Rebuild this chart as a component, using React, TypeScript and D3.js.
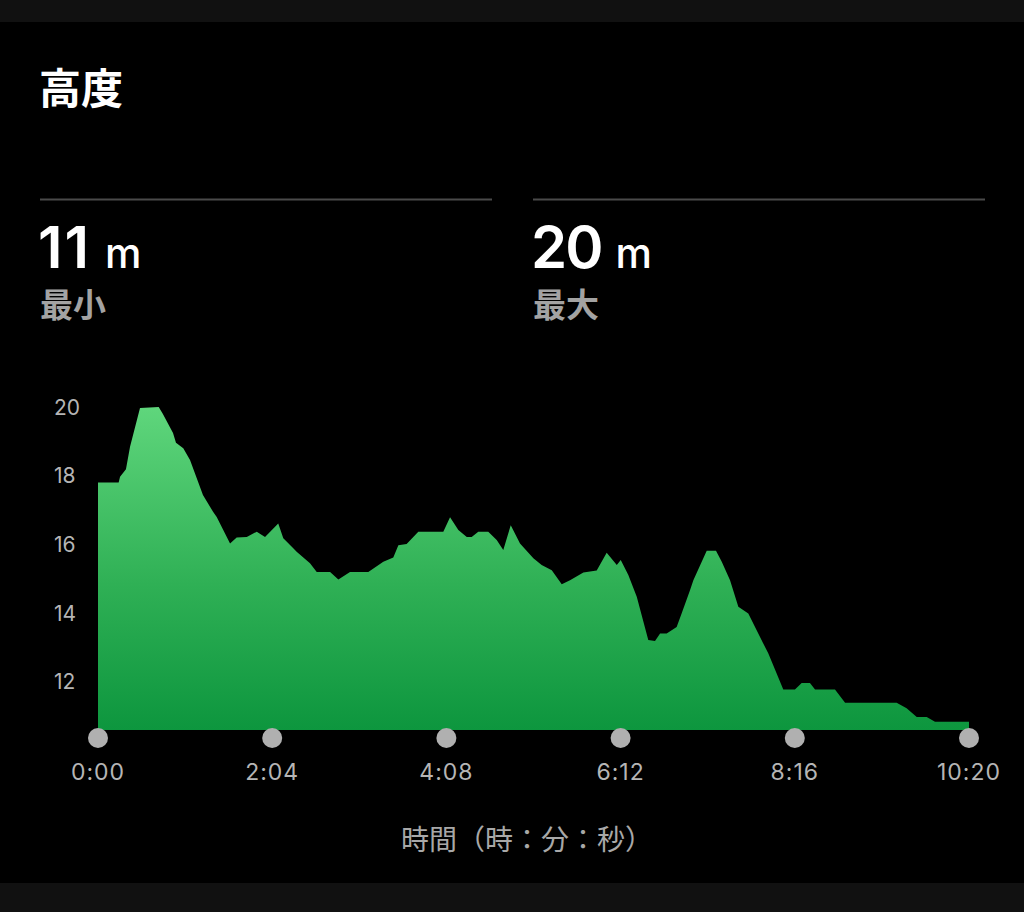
import React, { useEffect, useRef } from 'react';
import * as d3 from 'd3';

// elapsed time (s) and altitude (m)
const times = [
  0, 14.7, 15.7, 19.9, 22.8, 29.9, 43.2, 46.1, 53.4, 55.5, 60.7, 65.5, 74.7, 81.9, 84.5, 94.0,
  98.7, 105.9, 113.0, 118.9, 128.3, 131.9, 139.0, 141.4, 150.9, 155.7, 165.2, 171.1, 179.4,
  192.4, 203.1, 210.2, 213.8, 219.7, 228.0, 245.8, 250.6, 256.5, 262.5, 266.0, 270.7, 277.8,
  283.8, 288.5, 293.8, 300.4, 309.9, 315.8, 323.0, 330.1, 336.0, 345.5, 355.0, 362.1, 369.3,
  372.1, 377.5, 383.5, 391.7, 396.5, 400.1, 404.8, 411.9, 415.5, 421.4, 423.8, 433.3, 439.9,
  444.0, 449.9, 455.8, 462.9, 470.0, 477.1, 487.8, 496.1, 500.9, 506.8, 510.4, 524.6, 531.8,
  568.5, 575.6, 582.8, 589.9, 595.8, 620,
];
const altitudes = [
  17.8, 17.8, 17.97, 18.19, 18.84, 19.97, 20.0, 19.8, 19.24, 18.96, 18.8, 18.46, 17.44, 16.95,
  16.8, 16.03, 16.2, 16.22, 16.37, 16.22, 16.61, 16.18, 15.89, 15.79, 15.45, 15.2, 15.2, 14.98,
  15.2, 15.2, 15.5, 15.62, 15.98, 16.01, 16.37, 16.37, 16.79, 16.42, 16.22, 16.22, 16.37, 16.37,
  16.13, 15.84, 16.56, 16.03, 15.6, 15.4, 15.25, 14.84, 14.96, 15.18, 15.24, 15.76, 15.4, 15.55,
  15.11, 14.48, 13.22, 13.19, 13.41, 13.41, 13.6, 14.0, 14.67, 14.96, 15.82, 15.82, 15.5, 14.96,
  14.19, 13.99, 13.41, 12.83, 11.78, 11.78, 11.97, 11.97, 11.78, 11.78, 11.39, 11.39, 11.23,
  10.98, 10.98, 10.84, 10.84,
];
const yTicks = [12, 14, 16, 18, 20];
const xTicks = [0, 124, 248, 372, 496, 620];
const statValues = ['11', '20'];
const statLabels = ['最小', '最大'];

const W = 1024;
const H = 912;
const CJK = "'Noto Sans CJK JP', 'Noto Sans', sans-serif";
const NUM = "Inter, 'Noto Sans', sans-serif";

const fmtTime = (s: number) => `${Math.floor(s / 60)}:${String(s % 60).padStart(2, '0')}`;

export default function App() {
  const svgRef = useRef<SVGSVGElement>(null);

  useEffect(() => {
    if (!svgRef.current) return;
    const svg = d3.select(svgRef.current);
    svg.selectAll('*').remove();

    svg.attr('width', W).attr('height', H);

    // background panels
    svg.append('rect').attr('width', W).attr('height', H).attr('fill', '#111111');
    svg.append('rect').attr('x', 0).attr('y', 22).attr('width', W).attr('height', 861).attr('fill', '#000');

    // title
    svg.append('text')
      .attr('x', 39)
      .attr('y', 104)
      .style('font-family', CJK)
      .style('font-weight', 700)
      .style('font-size', '42px')
      .style('fill', '#fff')
      .text('高度');

    // min / max blocks
    const blocks = [40, 533];
    blocks.forEach((bx, i) => {
      svg.append('line')
        .attr('x1', bx)
        .attr('x2', bx + 452)
        .attr('y1', 199.5)
        .attr('y2', 199.5)
        .attr('stroke', '#4a4a4a')
        .attr('stroke-width', 2);

      const t = svg.append('text')
        .attr('x', bx - 2)
        .attr('y', 268)
        .style('font-family', NUM)
        .style('fill', '#fff');
      t.append('tspan')
        .style('font-size', '58px')
        .style('font-weight', 600)
        .style('letter-spacing', i === 0 ? '2px' : '-2px')
        .text(statValues[i]);
      t.append('tspan')
        .attr('dx', 14)
        .style('font-size', '41px')
        .style('font-weight', 500)
        .text('m');

      svg.append('text')
        .attr('x', bx)
        .attr('y', 317)
        .style('font-family', CJK)
        .style('font-weight', 700)
        .style('font-size', '33px')
        .style('fill', '#a3a3a3')
        .text(statLabels[i]);
    });

    // scales
    const x = d3.scaleLinear().domain([0, 620]).range([98, 969]);
    const y = d3.scaleLinear().domain([10.6, 20]).range([730, 407]);

    const data = times.map((t, i) => ({ t, v: altitudes[i] }));

    const defs = svg.append('defs');
    const grad = defs.append('linearGradient')
      .attr('id', 'altFill')
      .attr('gradientUnits', 'userSpaceOnUse')
      .attr('x1', 0).attr('x2', 0)
      .attr('y1', y(20)).attr('y2', y(10.6));
    grad.append('stop').attr('offset', '0%').attr('stop-color', '#5fd67c');
    grad.append('stop').attr('offset', '55%').attr('stop-color', '#2fb055');
    grad.append('stop').attr('offset', '100%').attr('stop-color', '#0d963e');

    const area = d3.area<{ t: number; v: number }>()
      .x((d) => x(d.t))
      .y0(y(10.6))
      .y1((d) => y(d.v));

    svg.append('path')
      .datum(data)
      .attr('d', area)
      .attr('fill', 'url(#altFill)');

    // y axis labels
    svg.append('g')
      .selectAll('text')
      .data(yTicks)
      .enter()
      .append('text')
      .attr('x', 54)
      .attr('y', (d) => y(d))
      .attr('dy', '0.36em')
      .style('font-family', NUM)
      .style('font-size', '21px')
      .style('fill', '#b5b5b5')
      .text((d) => d);

    // x axis dots + labels
    const xg = svg.append('g');
    xg.selectAll('circle')
      .data(xTicks)
      .enter()
      .append('circle')
      .attr('cx', (d) => x(d))
      .attr('cy', 738)
      .attr('r', 10)
      .attr('fill', '#b0b0b0');

    xg.selectAll('text')
      .data(xTicks)
      .enter()
      .append('text')
      .attr('x', (d) => x(d))
      .attr('y', 780)
      .attr('text-anchor', 'middle')
      .style('font-family', NUM)
      .style('font-size', '23px')
      .style('letter-spacing', '1px')
      .style('fill', '#b5b5b5')
      .text((d) => fmtTime(d));

    // axis title
    svg.append('text')
      .attr('x', 527)
      .attr('y', 850)
      .attr('text-anchor', 'middle')
      .style('font-family', CJK)
      .style('font-size', '28px')
      .style('fill', '#a8a8a8')
      .text('時間（時：分：秒）');
  }, []);

  return (
    <div style={{ position: 'fixed', left: 0, top: 0, width: W, height: H, background: '#000' }}>
      <svg ref={svgRef} style={{ display: 'block' }}></svg>
    </div>
  );
}
